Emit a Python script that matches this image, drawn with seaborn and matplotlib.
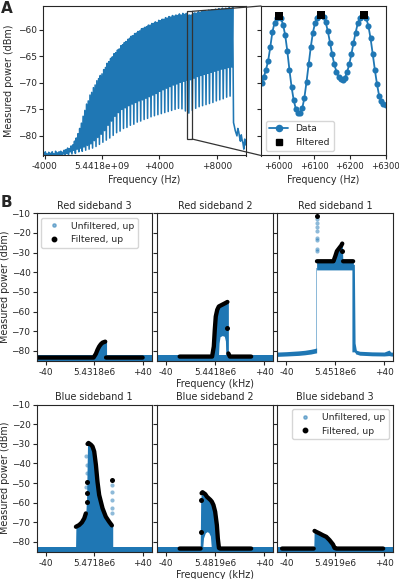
import numpy as np
import matplotlib
matplotlib.use("Agg")
import matplotlib.pyplot as plt
import seaborn as sns
from matplotlib.lines import Line2D
from matplotlib.patches import Rectangle, ConnectionPatch

nan = np.nan

# ---------------- panel A : full sweep (one peak + one trough per 120 Hz) ----------------
comb_peak_hz = np.arange(-4080, 9961, 120)
comb_trough_hz = comb_peak_hz + 60
comb_peak_db = [
    -83.3, -83.0, -83.4, -83.1, -83.3, -83.0, -83.4, -82.9, -83.2, -83.0,
    -82.9, -83.1, -82.7, -82.6, -82.3, -82.4, -81.9, -81.7, -81.0, -80.4,
    -79.6, -78.6, -77.6, -76.3, -75.2, -74.0, -73.4, -72.3, -71.8, -70.9,
    -70.4, -69.6, -69.2, -68.6, -68.3, -67.5, -67.1, -66.3, -66.0, -65.4,
    -65.1, -64.5, -64.3, -63.8, -63.6, -63.0, -62.8, -62.4, -62.2, -61.8,
    -61.6, -61.2, -61.1, -60.7, -60.6, -60.3, -60.2, -59.8, -59.7, -59.5,
    -59.4, -59.1, -59.1, -58.8, -58.8, -58.5, -58.6, -58.2, -58.3, -58.0,
    -58.0, -57.7, -57.8, -57.5, -57.6, -57.3, -57.4, -57.2, -57.3, -57.0,
    -57.2, -56.9, -57.1, -56.9, -57.2, -57.2, -57.2, -56.9, -56.8, -56.9,
    -56.6, -56.7, -56.5, -56.6, -56.4, -56.5, -56.3, -56.4, -56.2, -56.3,
    -56.1, -56.2, -56.0, -56.2, -55.9, -56.1, -55.9, -56.0, -55.8, -56.0,
    -55.7, -78.2, -79.5, -78.6, -80.2, -79.8, -81.4, -80.6,
]
comb_trough_db = [
    -83.8, -83.6, -84.0, -83.5, -83.9, -83.6, -84.1, -83.5, -83.9, -83.6,
    -83.8, -83.4, -83.7, -83.3, -83.6, -83.0, -83.4, -82.7, -83.3, -82.5,
    -83.0, -82.3, -82.9, -82.1, -82.7, -81.8, -82.5, -81.5, -82.3, -80.9,
    -82.0, -80.3, -81.6, -79.7, -81.2, -79.0, -80.8, -78.0, -80.4, -77.2,
    -79.9, -76.3, -79.4, -75.6, -79.1, -75.0, -78.6, -74.7, -78.4, -74.3,
    -78.0, -74.0, -77.8, -73.7, -77.4, -73.4, -77.2, -73.2, -76.9, -72.9,
    -76.7, -72.6, -76.4, -72.3, -76.2, -72.0, -76.0, -71.6, -75.8, -71.3,
    -75.6, -71.0, -75.4, -70.7, -75.2, -70.4, -75.0, -70.2, -74.8, -69.9,
    -74.9, -69.7, -75.3, -69.5, -75.7, -69.4, -75.2, -69.1, -74.8, -68.8,
    -74.5, -68.6, -74.3, -68.4, -74.1, -68.2, -73.9, -68.0, -73.7, -67.8,
    -73.4, -67.6, -73.2, -67.4, -73.0, -67.3, -72.7, -67.1, -72.5, -67.0,
    -77.5, -79.0, -80.0, -79.2, -81.0, -80.8, -82.5, -81.7,
]

# zoomed part of the sweep
zoom_hz = np.arange(5952, 6301, 6)
zoom_db = [
    -70.1, -68.9, -67.5, -65.9, -63.3, -60.4, -58.7, -57.7, -57.3,
    -57.8, -59.0, -61.0, -64.0, -67.6, -70.8, -73.3, -74.9, -75.7, -75.7,
    -74.8, -72.8, -69.8, -66.5, -63.2, -60.5, -58.7, -57.7, -57.3, -57.2,
    -57.6, -58.6, -60.3, -62.4, -64.6, -66.5, -67.9, -68.8, -69.3, -69.4,
    -69.0, -68.0, -66.5, -64.6, -62.5, -60.5, -58.8, -57.8, -57.3, -57.2,
    -57.8, -59.3, -61.6, -64.5, -67.5, -70.2, -72.4, -73.5, -74.0, -74.2,
]
filt_hz = [6000, 6120, 6240]
filt_db = [-57.3, -57.2, -57.2]
zoom_box = (5950, 6300, -80.6, -56.5)

a_xticks = [-4000, 0, 4000, 8000]
a_xticklabels = ["-4000", "5.4418e+09", "+4000", "+8000"]
az_xticks = [6000, 6100, 6200, 6300]
az_xticklabels = ["+6000", "+6100", "+6200", "+6300"]

# ---------------- panel B : sidebands (offset in kHz from centre) ----------------
sb_titles = ["Red sideband 3", "Red sideband 2", "Red sideband 1",
             "Blue sideband 1", "Blue sideband 2", "Blue sideband 3"]
sb_centres = ["5.4318e6", "5.4418e6", "5.4518e6", "5.4718e6", "5.4819e6", "5.4919e6"]
sb_xticks = [-40, 0, 40]

# Red sideband 3
rsb3_floor_x = [-47.5, 47.5]
rsb3_floor_hi = [-82.2, -82.2]
rsb3_floor_lo = [-85.5, -85.5]
rsb3_peak_x = [-0.5, 1.4, 2.7, 4.1, 5.5, 6.9, 9.1, 10.2]
rsb3_peak_hi = [-83.4, -81.2, -79.2, -77.5, -76.3, -75.5, -75.0, -75.0]
rsb3_peak_lo = [-84.0, -84.0, -84.0, -84.0, -84.0, -84.0, -84.0, -84.0]
rsb3_filt_x = [-46.0, -0.5, 1.4, 2.7, 4.1, 5.5, 6.9, 9.1, nan, 9.8, 40.0]
rsb3_filt_y = [-83.4, -83.4, -81.5, -79.5, -77.8, -76.6, -75.8, -75.3, nan, -83.4, -83.4]

# Red sideband 2
rsb2_floor_x = [-47.5, 47.5]
rsb2_floor_hi = [-82.2, -82.2]
rsb2_floor_lo = [-85.5, -85.5]
rsb2_peak_x = [-3.0, -2.5, -1.1, -0.3, 0.5, 1.7, 2.6, 3.2, 4.0, 5.8, 7.5, 8.4, 8.8, 10.0, 10.8]
rsb2_peak_hi = [-83.0, -82.2, -77.0, -68.5, -61.8, -58.6, -57.8, -57.1, -56.8, -56.2, -55.7, -55.4, -55.3, -54.9, -55.0]
rsb2_peak_lo = [-84.0, -84.0, -84.0, -84.0, -84.0, -84.0, -84.0, -76.0, -72.8, -72.2, -72.6, -75.0, -84.0, -84.0, -84.0]
rsb2_filt_x = [-29.0, -2.5, -1.1, -0.3, 0.5, 1.7, 3.0, 5.8, 8.6, 10.0, nan, 10.8, 12.0, 29.4]
rsb2_filt_y = [-82.9, -82.9, -77.8, -69.3, -62.5, -59.1, -57.4, -56.5, -55.6, -55.1, nan, -81.3, -82.9, -82.9]
rsb2_dot_x = [9.6]
rsb2_dot_y = [-68.4]

# Red sideband 1
rsb1_floor_left_x = [-47.5, -40.0, -30.0, -25.0, -20.0, -17.0, -15.3]
rsb1_floor_left_hi = [-80.6, -80.4, -80.0, -79.7, -79.2, -78.8, -78.5]
rsb1_floor_left_lo = [-82.8, -82.6, -82.3, -82.0, -81.6, -81.2, -81.0]
rsb1_floor_right_x = [16.5, 20.0, 30.0, 40.0, 44.0, 45.5, 47.5]
rsb1_floor_right_hi = [-79.5, -80.2, -80.5, -80.6, -79.6, -80.6, -80.7]
rsb1_floor_right_lo = [-81.5, -82.2, -82.5, -82.6, -82.4, -82.6, -82.7]
rsb1_block_x = [-15.3, -1.5, 0.0, 1.3, 3.5, 4.9, 5.7, 6.2, 14.8]
rsb1_block_hi = [-34.2, -34.2, -31.6, -29.1, -27.3, -26.2, -25.3, -34.2, -34.2]
rsb1_block_lo = [-38.8, -38.8, -38.8, -38.8, -38.8, -38.8, -38.8, -38.8, -38.8]
rsb1_edge_x = [13.6, 15.6, 16.2, 17.2]
rsb1_edge_hi = [-36.0, -36.0, -76.0, -79.5]
rsb1_edge_lo = [-80.5, -80.5, -81.0, -81.2]
rsb1_col_x = [-16.0, -14.6]
rsb1_col_hi = [-38.0, -38.0]
rsb1_col_lo = [-79.5, -79.5]
rsb1_spur_x = [-15.2, -15.2, -15.2, -15.2, -15.2, -15.2, -15.2, -15.2]
rsb1_spur_y = [-13.1, -14.8, -17.0, -19.0, -22.4, -23.6, -28.0, -29.3]
rsb1_filt_x = [-15.0, -1.5, 0.0, 1.3, 3.5, 4.9, 5.7, nan, 6.4, 14.6]
rsb1_filt_y = [-34.4, -34.4, -31.8, -29.3, -27.5, -26.4, -25.4, nan, -34.4, -34.4]
rsb1_dot_x = [-15.0, 5.2]
rsb1_dot_y = [-11.4, -29.3]

# Blue sideband 1
bsb1_floor_x = [-47.5, 47.5]
bsb1_floor_hi = [-82.5, -82.5]
bsb1_floor_lo = [-85.5, -85.5]
bsb1_peak_x = [-15.4, -15.1, -12.4, -10.2, -8.2, -6.9, -6.3, -5.8, -5.5, -4.7, -2.7, -1.4,
               0.0, 1.4, 2.7, 4.1, 6.9, 9.6, 12.4, 14.3, 15.3]
bsb1_peak_hi = [-83.0, -71.8, -71.0, -69.7, -67.6, -65.0, -58.0, -40.0, -29.8, -29.3, -30.2, -31.1,
                -33.6, -40.4, -49.0, -55.8, -62.6, -66.9, -69.5, -71.1, -71.5]
bsb1_peak_lo = [-84.0, -84.0, -84.0, -84.0, -84.0, -84.0, -84.0, -84.0, -84.0, -84.0, -84.0, -84.0,
                -84.0, -84.0, -84.0, -84.0, -84.0, -84.0, -84.0, -84.0, -84.0]
bsb1_spur_x = [14.3, 14.3, 14.3, 14.3, 14.3, -6.6, -6.2, -5.9, -6.4]
bsb1_spur_y = [-51.0, -54.4, -58.6, -62.9, -65.5, -36.0, -41.0, -45.0, -52.0]
bsb1_filt_x = [-15.1, -12.4, -10.2, -8.2, -6.9, nan, -5.5, -4.7, -2.7, -1.4, 0.0, 1.4,
               2.7, 4.1, 6.9, 9.6, 12.4, 14.6]
bsb1_filt_y = [-72.3, -71.4, -70.1, -68.0, -65.5, nan, -30.1, -29.6, -30.5, -31.4, -33.9, -40.7,
               -49.3, -56.1, -62.9, -67.2, -69.8, -71.6]
bsb1_dot_x = [-6.3, -6.0, -5.8, 14.3]
bsb1_dot_y = [-59.5, -55.3, -49.3, -48.4]

# Blue sideband 2
bsb2_floor_x = [-47.5, 47.5]
bsb2_floor_hi = [-82.5, -82.5]
bsb2_floor_lo = [-85.5, -85.5]
bsb2_peak_x = [-12.2, -11.8, -11.1, -10.3, -9.5, -8.1, -6.7, -5.3, -3.9, -3.0, -2.7, -1.4,
               0.0, 1.4, 2.2, 3.3]
bsb2_peak_hi = [-83.0, -58.0, -54.9, -54.4, -54.9, -55.4, -56.7, -57.5, -58.3, -58.9, -59.2, -60.9,
                -64.3, -71.1, -78.0, -83.0]
bsb2_peak_lo = [-84.0, -84.0, -84.0, -84.0, -78.0, -75.5, -74.8, -75.2, -77.0, -84.0, -84.0, -84.0,
                -84.0, -84.0, -84.0, -84.0]
bsb2_filt_x = [-29.0, -11.9, nan, -11.1, -10.3, -8.1, -6.7, -5.3, -3.9, -2.7, -1.4, 0.0,
               1.4, 2.2, 3.1, 4.0, 29.4]
bsb2_filt_y = [-83.4, -83.4, nan, -55.2, -54.7, -55.7, -57.0, -57.8, -58.6, -59.5, -61.2, -64.6,
               -71.4, -78.3, -83.1, -83.4, -83.4]
bsb2_dot_x = [-11.7, -11.7]
bsb2_dot_y = [-74.9, -58.6]

# Blue sideband 3
bsb3_floor_x = [-47.5, 47.5]
bsb3_floor_hi = [-82.5, -82.5]
bsb3_floor_lo = [-85.5, -85.5]
bsb3_peak_x = [-17.6, -17.3, -15.6, -12.9, -10.2, -7.4, -4.7, -1.9, -0.4]
bsb3_peak_hi = [-83.0, -74.0, -74.5, -75.3, -76.2, -77.0, -78.7, -80.9, -83.0]
bsb3_peak_lo = [-84.0, -84.0, -84.0, -84.0, -84.0, -84.0, -84.0, -84.0, -84.0]
bsb3_filt_x = [-43.6, -17.7, nan, -17.0, -15.6, -12.9, -10.2, -7.4, -4.7, -1.9, -0.6, 1.0, 39.2]
bsb3_filt_y = [-83.4, -83.4, nan, -74.4, -74.9, -75.7, -76.6, -77.4, -79.1, -81.3, -83.1, -83.4, -83.4]

C0 = "#1f77b4"
W, H = 399, 579


def box(l, t, r, b):
    return [l / W, 1 - b / H, (r - l) / W, (b - t) / H]


def main():
    sns.set_style("ticks")
    plt.rcParams["font.family"] = ["DejaVu Sans"]
    plt.rcParams["font.size"] = 6.7
    plt.rcParams["axes.labelsize"] = 6.9
    plt.rcParams["axes.titlesize"] = 6.9
    plt.rcParams["xtick.labelsize"] = 6.4
    plt.rcParams["ytick.labelsize"] = 6.5
    plt.rcParams["legend.fontsize"] = 6.7
    plt.rcParams["axes.edgecolor"] = "0.15"
    plt.rcParams["axes.linewidth"] = 0.8
    plt.rcParams["xtick.major.size"] = 3
    plt.rcParams["ytick.major.size"] = 3
    plt.rcParams["xtick.major.pad"] = 2
    plt.rcParams["ytick.major.pad"] = 1.5
    plt.rcParams["axes.labelpad"] = 2.5

    fig = plt.figure(figsize=(W / 100, H / 100), dpi=100)

    # ---- A ----
    axA = fig.add_axes(box(43, 6, 245.7, 155.5))
    axZ = fig.add_axes(box(261, 6, 385.5, 155.5), sharey=axA)

    sweep_hz = np.empty(comb_peak_hz.size * 2)
    sweep_db = np.empty(comb_peak_hz.size * 2)
    sweep_hz[0::2] = comb_peak_hz
    sweep_hz[1::2] = comb_trough_hz
    sweep_db[0::2] = comb_peak_db
    sweep_db[1::2] = comb_trough_db
    sns.lineplot(x=sweep_hz, y=sweep_db, sort=False, estimator=None, ax=axA,
                 color=C0, linewidth=1.15)
    axA.set_xlim(-4120, 10030)
    axA.set_ylim(-83.7, -55.5)
    axA.set_yticks([-80, -75, -70, -65, -60])
    axA.set_xticks(a_xticks)
    axA.set_xticklabels(a_xticklabels)
    axA.set_xlabel("Frequency (Hz)")
    axA.set_ylabel("Measured power (dBm)")

    x0, x1, y0, y1 = zoom_box
    axA.add_patch(Rectangle((x0, y0), x1 - x0, y1 - y0, fill=False,
                            edgecolor="0.2", linewidth=0.9, zorder=5))

    sns.lineplot(x=zoom_hz, y=zoom_db, sort=False, estimator=None, ax=axZ,
                 color=C0, linewidth=1.3, marker="o", markersize=4.4,
                 markeredgewidth=0, markeredgecolor=C0)
    sns.scatterplot(x=filt_hz, y=filt_db, ax=axZ, marker="s", s=26,
                    color="k", linewidth=0, zorder=5)
    axZ.set_xlim(5950, 6300)
    axZ.set_xticks(az_xticks)
    axZ.set_xticklabels(az_xticklabels)
    axZ.tick_params(labelleft=False)
    axZ.tick_params(axis="x", labelsize=6.1)
    axZ.set_xlabel("Frequency (Hz)")
    axZ.set_ylabel("")
    handles = [Line2D([], [], color=C0, marker="o", markersize=4.4, lw=1.3, label="Data"),
               Line2D([], [], color="k", marker="s", markersize=4.4, ls="", label="Filtered")]
    axZ.legend(handles=handles, loc="lower left", handlelength=2.0, borderpad=0.4)

    for xa, ya, xb, yb in [(x1, y1, 0, 1), (x1, y0, 0, 0)]:
        con = ConnectionPatch(xyA=(xa, ya), coordsA=axA.transData,
                              xyB=(xb, yb), coordsB=axZ.transAxes,
                              color="0.2", linewidth=0.9)
        fig.add_artist(con)

    # ---- B ----
    cols = [(36.7, 151.7), (157, 273.3), (277.3, 393.3)]
    rows = [(213.3, 360.7), (404.5, 551.7)]
    panels = [
        dict(floor=[(rsb3_floor_x, rsb3_floor_lo, rsb3_floor_hi)],
             fills=[(rsb3_peak_x, rsb3_peak_lo, rsb3_peak_hi)],
             light=[], spur=None, filt=(rsb3_filt_x, rsb3_filt_y), dots=None),
        dict(floor=[(rsb2_floor_x, rsb2_floor_lo, rsb2_floor_hi)],
             fills=[(rsb2_peak_x, rsb2_peak_lo, rsb2_peak_hi)],
             light=[], spur=None, filt=(rsb2_filt_x, rsb2_filt_y), dots=(rsb2_dot_x, rsb2_dot_y)),
        dict(floor=[(rsb1_floor_left_x, rsb1_floor_left_lo, rsb1_floor_left_hi),
                    (rsb1_floor_right_x, rsb1_floor_right_lo, rsb1_floor_right_hi)],
             fills=[(rsb1_block_x, rsb1_block_lo, rsb1_block_hi),
                    (rsb1_edge_x, rsb1_edge_lo, rsb1_edge_hi)],
             light=[(rsb1_col_x, rsb1_col_lo, rsb1_col_hi)],
             spur=(rsb1_spur_x, rsb1_spur_y), filt=(rsb1_filt_x, rsb1_filt_y),
             dots=(rsb1_dot_x, rsb1_dot_y)),
        dict(floor=[(bsb1_floor_x, bsb1_floor_lo, bsb1_floor_hi)],
             fills=[(bsb1_peak_x, bsb1_peak_lo, bsb1_peak_hi)],
             light=[], spur=(bsb1_spur_x, bsb1_spur_y), filt=(bsb1_filt_x, bsb1_filt_y),
             dots=(bsb1_dot_x, bsb1_dot_y)),
        dict(floor=[(bsb2_floor_x, bsb2_floor_lo, bsb2_floor_hi)],
             fills=[(bsb2_peak_x, bsb2_peak_lo, bsb2_peak_hi)],
             light=[], spur=None, filt=(bsb2_filt_x, bsb2_filt_y), dots=(bsb2_dot_x, bsb2_dot_y)),
        dict(floor=[(bsb3_floor_x, bsb3_floor_lo, bsb3_floor_hi)],
             fills=[(bsb3_peak_x, bsb3_peak_lo, bsb3_peak_hi)],
             light=[], spur=None, filt=(bsb3_filt_x, bsb3_filt_y), dots=None),
    ]

    first = None
    for i, p in enumerate(panels):
        r, c = divmod(i, 3)
        ax = fig.add_axes(box(cols[c][0], rows[r][0], cols[c][1], rows[r][1]),
                          sharey=first)
        if first is None:
            first = ax
        for fx, lo, hi in p["floor"] + p["fills"]:
            ax.fill_between(fx, lo, hi, color=C0, linewidth=0)
        for fx, lo, hi in p["light"]:
            ax.fill_between(fx, lo, hi, color=C0, alpha=0.5, linewidth=0)
        if p["spur"] is not None:
            sns.scatterplot(x=p["spur"][0], y=p["spur"][1], ax=ax, s=9, color=C0,
                            alpha=0.5, linewidth=0)
        ax.plot(p["filt"][0], p["filt"][1], color="k", linewidth=3.1,
                solid_capstyle="round", solid_joinstyle="round")
        if p["dots"] is not None:
            sns.scatterplot(x=p["dots"][0], y=p["dots"][1], ax=ax, s=13, color="k",
                            linewidth=0, zorder=4)
        ax.set_xlim(-47.5, 47.5)
        ax.set_ylim(-85, -10)
        ax.set_yticks([-80, -70, -60, -50, -40, -30, -20, -10])
        ax.set_xticks(sb_xticks)
        ax.set_xticklabels(["-40", sb_centres[i], "+40"])
        ax.set_title(sb_titles[i], pad=3)
        if c == 0:
            ax.set_ylabel("Measured power (dBm)", labelpad=1.0)
        else:
            ax.tick_params(labelleft=False)
        if c == 1:
            ax.set_xlabel("Frequency (kHz)", labelpad=1.5)
        if i in (0, 5):
            handles = [Line2D([], [], ls="", marker="o", markersize=2.4, color=C0,
                              alpha=0.5, label="Unfiltered, up"),
                       Line2D([], [], ls="", marker="o", markersize=3.2, color="k",
                              label="Filtered, up")]
            ax.legend(handles=handles, loc="upper left" if i == 0 else "upper right",
                      handlelength=2.0, borderpad=0.4)

    fig.text(0.002, 0.998, "A", fontsize=11, fontweight="bold", va="top", ha="left")
    fig.text(0.002, 1 - 195 / H, "B", fontsize=11, fontweight="bold", va="top", ha="left")

    fig.savefig("out.png", dpi=100)


if __name__ == "__main__":
    main()
